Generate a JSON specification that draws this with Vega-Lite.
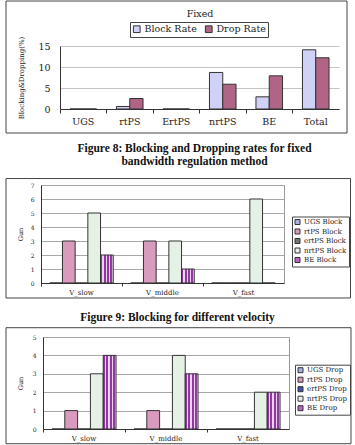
{
  "$schema": "https://vega.github.io/schema/vega-lite/v6.json",
  "background": "white",
  "padding": {"left": 4, "top": 0, "right": 0, "bottom": 0},
  "config": {
    "font": "DejaVu Serif",
    "view": {"stroke": null},
    "axis": {
      "labelFont": "DejaVu Serif",
      "titleFont": "DejaVu Serif",
      "labelColor": "#222",
      "titleColor": "#222",
      "titleFontWeight": "normal",
      "domainColor": "#333",
      "tickColor": "#333",
      "gridColor": "#c4c4c4"
    },
    "legend": {"labelFont": "DejaVu Serif", "labelColor": "#222"},
    "title": {"font": "Liberation Serif", "fontWeight": "bold", "color": "#111"}
  },
  "concat": [
    {
      "hconcat": [
        {"width": 1, "height": 1, "data": {"values": []}, "mark": {"type": "point", "opacity": 0}},
        {
          "width": 279,
          "height": 63,
          "title": {
            "text": ["Figure 8: Blocking and Dropping rates for fixed", "bandwidth regulation method"],
            "orient": "bottom",
            "anchor": "middle",
            "frame": "group",
            "fontSize": 11.5,
            "lineHeight": 13,
            "offset": 9,
            "dx": -5
          },
          "resolve": {"scale": {"x": "independent", "y": "independent"}},
          "layer": [
            {
              "data": {"values": [{}]},
              "mark": {"type": "rect", "filled": false, "stroke": "#444", "strokeWidth": 1},
              "encoding": {
                "x": {
                  "datum": -0.1935, "type": "quantitative",
                  "scale": {"domain": [0, 1], "nice": false, "zero": false},
                  "axis": {"orient": "top", "title": "Fixed", "labels": false, "ticks": false, "domain": false, "grid": false, "titleFontSize": 9.5, "titlePadding": 28}
                },
                "x2": {"datum": 1.0287},
                "y": {
                  "datum": 1.714, "type": "quantitative",
                  "scale": {"domain": [0, 1], "nice": false, "zero": false},
                  "axis": null
                },
                "y2": {"datum": -0.381}
              }
            },
            {
              "data": {
                "values": [
                  {"cls": "UGS", "series": "Block Rate", "v": 0},
                  {"cls": "UGS", "series": "Drop Rate", "v": 0},
                  {"cls": "rtPS", "series": "Block Rate", "v": 0.6},
                  {"cls": "rtPS", "series": "Drop Rate", "v": 2.5},
                  {"cls": "ErtPS", "series": "Block Rate", "v": 0},
                  {"cls": "ErtPS", "series": "Drop Rate", "v": 0},
                  {"cls": "nrtPS", "series": "Block Rate", "v": 8.7},
                  {"cls": "nrtPS", "series": "Drop Rate", "v": 5.9},
                  {"cls": "BE", "series": "Block Rate", "v": 2.9},
                  {"cls": "BE", "series": "Drop Rate", "v": 7.9},
                  {"cls": "Total", "series": "Block Rate", "v": 14.1},
                  {"cls": "Total", "series": "Drop Rate", "v": 12.2}
                ]
              },
              "mark": {"type": "bar", "stroke": "#333", "strokeWidth": 1},
              "encoding": {
                "x": {
                  "field": "cls", "type": "nominal",
                  "sort": ["UGS", "rtPS", "ErtPS", "nrtPS", "BE", "Total"],
                  "scale": {"paddingInner": 0, "paddingOuter": 0},
                  "axis": {"title": null, "bandPosition": 0, "labelAngle": 0, "labelFontSize": 9.5, "tickSize": 4, "labelPadding": 3, "grid": false}
                },
                "xOffset": {
                  "field": "series", "type": "nominal",
                  "scale": {"paddingInner": 0, "paddingOuter": 0.75}
                },
                "y": {
                  "field": "v", "type": "quantitative",
                  "scale": {"domain": [0, 15], "nice": false},
                  "axis": {"values": [0, 5, 10, 15], "title": "Blocking&Dropping(%)", "titleFontSize": 7, "labelFontSize": 9.5, "ticks": false, "labelPadding": 10, "titlePadding": 13, "grid": true}
                },
                "color": {
                  "field": "series", "type": "nominal",
                  "scale": {"domain": ["Block Rate", "Drop Rate"], "range": ["#cfd2f6", "#b06486"]},
                  "legend": {
                    "orient": "none", "legendX": 70, "legendY": -24, "direction": "horizontal",
                    "title": null, "strokeColor": "#444", "fillColor": "white", "padding": 2,
                    "symbolType": "square", "symbolSize": 45, "symbolStrokeColor": "#333", "symbolStrokeWidth": 1,
                    "labelFontSize": 9.5, "columnPadding": 6, "labelOffset": 3
                  }
                }
              }
            }
          ]
        }
      ],
      "spacing": 0,
      "resolve": {"legend": {"color": "independent"}, "scale": {"color": "independent"}}
    },
    {
      "concat": [
        {
          "hconcat": [
            {"width": 1, "height": 1, "data": {"values": []}, "mark": {"type": "point", "opacity": 0}},
            {
              "width": 243,
              "height": 98,
              "view": {"stroke": "#999"},
              "title": {
                "text": "Figure 9: Blocking for different velocity",
                "orient": "bottom",
                "anchor": "middle",
                "frame": "group",
                "fontSize": 11.5,
                "offset": 14,
                "dx": 15
              },
              "resolve": {"scale": {"x": "independent", "y": "independent"}},
              "layer": [
                {
                  "data": {"values": [{}]},
                  "mark": {"type": "rect", "filled": false, "stroke": "#444", "strokeWidth": 1},
                  "encoding": {
                    "x": {"datum": -0.144, "type": "quantitative", "scale": {"domain": [0, 1], "nice": false, "zero": false}, "axis": null},
                    "x2": {"datum": 1.2737},
                    "y": {"datum": 1.066, "type": "quantitative", "scale": {"domain": [0, 1], "nice": false, "zero": false}, "axis": null},
                    "y2": {"datum": -0.153}
                  }
                },
                {
                  "data": {
                    "values": [
                      {"speed": "V_slow", "series": "UGS Block", "n": 0},
                      {"speed": "V_slow", "series": "rtPS Block", "n": 3},
                      {"speed": "V_slow", "series": "ertPS Block", "n": 0},
                      {"speed": "V_slow", "series": "nrtPS Block", "n": 5},
                      {"speed": "V_slow", "series": "BE Block", "n": 2},
                      {"speed": "V_middle", "series": "UGS Block", "n": 0},
                      {"speed": "V_middle", "series": "rtPS Block", "n": 3},
                      {"speed": "V_middle", "series": "ertPS Block", "n": 0},
                      {"speed": "V_middle", "series": "nrtPS Block", "n": 3},
                      {"speed": "V_middle", "series": "BE Block", "n": 1},
                      {"speed": "V_fast", "series": "UGS Block", "n": 0},
                      {"speed": "V_fast", "series": "rtPS Block", "n": 0},
                      {"speed": "V_fast", "series": "ertPS Block", "n": 0},
                      {"speed": "V_fast", "series": "nrtPS Block", "n": 6},
                      {"speed": "V_fast", "series": "BE Block", "n": 0}
                    ]
                  },
                  "mark": {"type": "bar", "stroke": "#333", "strokeWidth": 1},
                  "encoding": {
                    "x": {
                      "field": "speed", "type": "nominal",
                      "sort": ["V_slow", "V_middle", "V_fast"],
                      "scale": {"paddingInner": 0, "paddingOuter": 0},
                      "axis": {"title": null, "bandPosition": 0, "labelAngle": 0, "labelFontSize": 7, "tickSize": 3, "labelPadding": 2, "grid": false}
                    },
                    "xOffset": {
                      "field": "series", "type": "nominal",
                      "sort": ["UGS Block", "rtPS Block", "ertPS Block", "nrtPS Block", "BE Block"],
                      "scale": {"paddingInner": 0, "paddingOuter": 0.69}
                    },
                    "y": {
                      "field": "n", "type": "quantitative",
                      "scale": {"domain": [0, 7], "nice": false},
                      "axis": {"values": [0, 1, 2, 3, 4, 5, 6, 7], "title": "Gun", "titleFontSize": 6.5, "labelFontSize": 6, "ticks": false, "labelPadding": 7, "titlePadding": 7, "grid": true, "gridColor": "#a8a8a8"}
                    },
                    "color": {
                      "condition": {
                        "test": "datum.series === 'BE Block'",
                        "value": {"gradient": "linear", "x1": 0, "y1": 0, "x2": 1, "y2": 0, "stops": [
                          {"offset": 0, "color": "#8e3a9e"}, {"offset": 0.15, "color": "#8e3a9e"},
                          {"offset": 0.15, "color": "#ecd2f0"}, {"offset": 0.25, "color": "#ecd2f0"},
                          {"offset": 0.25, "color": "#8e3a9e"}, {"offset": 0.4, "color": "#8e3a9e"},
                          {"offset": 0.4, "color": "#ecd2f0"}, {"offset": 0.5, "color": "#ecd2f0"},
                          {"offset": 0.5, "color": "#8e3a9e"}, {"offset": 0.65, "color": "#8e3a9e"},
                          {"offset": 0.65, "color": "#ecd2f0"}, {"offset": 0.75, "color": "#ecd2f0"},
                          {"offset": 0.75, "color": "#8e3a9e"}, {"offset": 0.9, "color": "#8e3a9e"},
                          {"offset": 0.9, "color": "#ecd2f0"}, {"offset": 1, "color": "#ecd2f0"}
                        ]}
                      },
                      "field": "series", "type": "nominal",
                      "scale": {
                        "domain": ["UGS Block", "rtPS Block", "ertPS Block", "nrtPS Block", "BE Block"],
                        "range": ["#a9aee6", "#d99bbd", "#6f7a6f", "#e6f1e6", "#b865c4"]
                      },
                      "legend": {
                        "orient": "none", "legendX": 251, "legendY": 31.5, "direction": "vertical",
                        "title": null, "strokeColor": "#444", "fillColor": "white", "padding": 2,
                        "symbolType": "square", "symbolSize": 25, "symbolStrokeColor": "#333", "symbolStrokeWidth": 1,
                        "labelFontSize": 7, "rowPadding": 0.5, "labelOffset": 3
                      }
                    }
                  }
                }
              ]
            }
          ],
          "spacing": 0,
          "resolve": {"legend": {"color": "independent"}, "scale": {"color": "independent"}}
        },
        {
          "hconcat": [
            {"width": 1, "height": 1, "data": {"values": []}, "mark": {"type": "point", "opacity": 0}},
            {
              "width": 246,
              "height": 92,
              "view": {"stroke": "#999"},
              "resolve": {"scale": {"x": "independent", "y": "independent"}},
              "layer": [
                {
                  "data": {"values": [{}]},
                  "mark": {"type": "rect", "filled": false, "stroke": "#444", "strokeWidth": 1},
                  "encoding": {
                    "x": {"datum": -0.1504, "type": "quantitative", "scale": {"domain": [0, 1], "nice": false, "zero": false}, "axis": null},
                    "x2": {"datum": 1.252},
                    "y": {"datum": 1.101, "type": "quantitative", "scale": {"domain": [0, 1], "nice": false, "zero": false}, "axis": null},
                    "y2": {"datum": -0.16}
                  }
                },
                {
                  "data": {
                    "values": [
                      {"speed": "V_slow", "series": "UGS Drop", "n": 0},
                      {"speed": "V_slow", "series": "rtPS Drop", "n": 1},
                      {"speed": "V_slow", "series": "ertPS Drop", "n": 0},
                      {"speed": "V_slow", "series": "nrtPS Drop", "n": 3},
                      {"speed": "V_slow", "series": "BE Drop", "n": 4},
                      {"speed": "V_middle", "series": "UGS Drop", "n": 0},
                      {"speed": "V_middle", "series": "rtPS Drop", "n": 1},
                      {"speed": "V_middle", "series": "ertPS Drop", "n": 0},
                      {"speed": "V_middle", "series": "nrtPS Drop", "n": 4},
                      {"speed": "V_middle", "series": "BE Drop", "n": 3},
                      {"speed": "V_fast", "series": "UGS Drop", "n": 0},
                      {"speed": "V_fast", "series": "rtPS Drop", "n": 0},
                      {"speed": "V_fast", "series": "ertPS Drop", "n": 0},
                      {"speed": "V_fast", "series": "nrtPS Drop", "n": 2},
                      {"speed": "V_fast", "series": "BE Drop", "n": 2}
                    ]
                  },
                  "mark": {"type": "bar", "stroke": "#333", "strokeWidth": 1},
                  "encoding": {
                    "x": {
                      "field": "speed", "type": "nominal",
                      "sort": ["V_slow", "V_middle", "V_fast"],
                      "scale": {"paddingInner": 0, "paddingOuter": 0},
                      "axis": {"title": null, "bandPosition": 0, "labelAngle": 0, "labelFontSize": 7, "tickSize": 3, "labelPadding": 2, "grid": false}
                    },
                    "xOffset": {
                      "field": "series", "type": "nominal",
                      "sort": ["UGS Drop", "rtPS Drop", "ertPS Drop", "nrtPS Drop", "BE Drop"],
                      "scale": {"paddingInner": 0, "paddingOuter": 0.7}
                    },
                    "y": {
                      "field": "n", "type": "quantitative",
                      "scale": {"domain": [0, 5], "nice": false},
                      "axis": {"values": [0, 1, 2, 3, 4, 5], "title": "Gun", "titleFontSize": 6.5, "labelFontSize": 6, "ticks": false, "labelPadding": 7, "titlePadding": 9, "grid": true, "gridColor": "#a8a8a8"}
                    },
                    "color": {
                      "condition": {
                        "test": "datum.series === 'BE Drop'",
                        "value": {"gradient": "linear", "x1": 0, "y1": 0, "x2": 1, "y2": 0, "stops": [
                          {"offset": 0, "color": "#8e3a9e"}, {"offset": 0.15, "color": "#8e3a9e"},
                          {"offset": 0.15, "color": "#ecd2f0"}, {"offset": 0.25, "color": "#ecd2f0"},
                          {"offset": 0.25, "color": "#8e3a9e"}, {"offset": 0.4, "color": "#8e3a9e"},
                          {"offset": 0.4, "color": "#ecd2f0"}, {"offset": 0.5, "color": "#ecd2f0"},
                          {"offset": 0.5, "color": "#8e3a9e"}, {"offset": 0.65, "color": "#8e3a9e"},
                          {"offset": 0.65, "color": "#ecd2f0"}, {"offset": 0.75, "color": "#ecd2f0"},
                          {"offset": 0.75, "color": "#8e3a9e"}, {"offset": 0.9, "color": "#8e3a9e"},
                          {"offset": 0.9, "color": "#ecd2f0"}, {"offset": 1, "color": "#ecd2f0"}
                        ]}
                      },
                      "field": "series", "type": "nominal",
                      "scale": {
                        "domain": ["UGS Drop", "rtPS Drop", "ertPS Drop", "nrtPS Drop", "BE Drop"],
                        "range": ["#a9aee6", "#d99bbd", "#4650b8", "#e6f1e6", "#b865c4"]
                      },
                      "legend": {
                        "orient": "none", "legendX": 252, "legendY": 27.7, "direction": "vertical",
                        "title": null, "strokeColor": "#444", "fillColor": "white", "padding": 2,
                        "symbolType": "square", "symbolSize": 25, "symbolStrokeColor": "#333", "symbolStrokeWidth": 1,
                        "labelFontSize": 7, "rowPadding": 0.5, "labelOffset": 3
                      }
                    }
                  }
                }
              ]
            }
          ],
          "spacing": 0,
          "resolve": {"legend": {"color": "independent"}, "scale": {"color": "independent"}}
        }
      ],
      "columns": 1,
      "spacing": 1,
      "resolve": {
        "scale": {"x": "independent", "y": "independent", "xOffset": "independent", "color": "independent"},
        "axis": {"x": "independent", "y": "independent"},
        "legend": {"color": "independent"}
      }
    }
  ],
  "columns": 1,
  "spacing": 9,
  "resolve": {
    "scale": {"x": "independent", "y": "independent", "xOffset": "independent", "color": "independent"},
    "axis": {"x": "independent", "y": "independent"},
    "legend": {"color": "independent"}
  }
}
